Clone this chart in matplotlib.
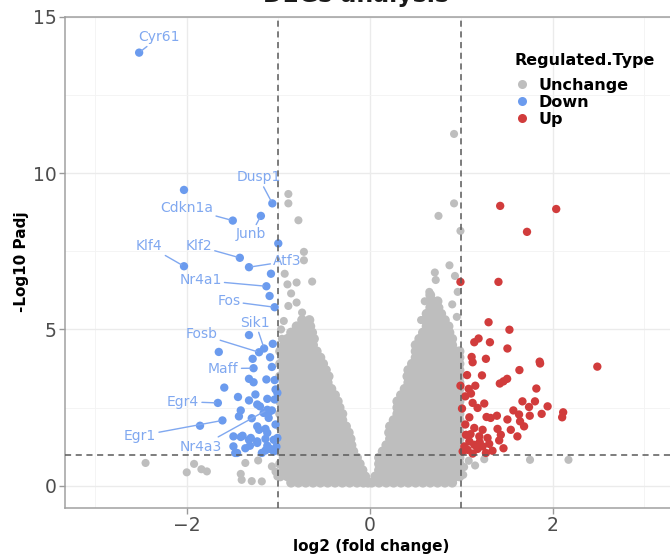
import matplotlib
matplotlib.use("Agg")
import matplotlib.pyplot as plt
from matplotlib.lines import Line2D

plt.rcParams['font.family'] = ['DejaVu Sans']

# ---- data ----
# dense grey cloud, left wedge (one y per row, x values of that row)
left_rows_y = [0.1, 0.3, 0.5, 0.7, 0.9, 1.1, 1.3, 1.5, 1.7, 1.9, 2.1, 2.3, 2.5,
               2.7, 2.9, 3.1, 3.3, 3.5, 3.7, 3.9, 4.1, 4.3, 4.5, 4.7, 4.9, 5.1, 5.3]
left_rows_x = [
    [-0.86, -0.78, -0.70, -0.62, -0.54, -0.46, -0.38, -0.30, -0.22, -0.14, -0.07, -0.02],
    [-0.98, -0.90, -0.82, -0.74, -0.66, -0.58, -0.50, -0.42, -0.34, -0.26, -0.18, -0.10, -0.05],
    [-0.94, -0.86, -0.78, -0.70, -0.62, -0.54, -0.46, -0.38, -0.30, -0.22, -0.14, -0.08],
    [-0.98, -0.90, -0.82, -0.74, -0.66, -0.58, -0.50, -0.42, -0.34, -0.26, -0.18, -0.11],
    [-0.94, -0.86, -0.78, -0.70, -0.62, -0.54, -0.46, -0.38, -0.30, -0.22, -0.14],
    [-0.98, -0.90, -0.82, -0.74, -0.66, -0.58, -0.50, -0.42, -0.34, -0.26, -0.18],
    [-0.94, -0.86, -0.78, -0.70, -0.62, -0.54, -0.46, -0.38, -0.30, -0.20],
    [-0.98, -0.90, -0.82, -0.74, -0.66, -0.58, -0.50, -0.42, -0.34, -0.26, -0.21],
    [-0.94, -0.86, -0.78, -0.70, -0.62, -0.54, -0.46, -0.38, -0.30, -0.23],
    [-0.98, -0.90, -0.82, -0.74, -0.66, -0.58, -0.50, -0.42, -0.34, -0.26],
    [-0.94, -0.86, -0.78, -0.70, -0.62, -0.54, -0.46, -0.38, -0.30],
    [-0.98, -0.90, -0.82, -0.74, -0.66, -0.58, -0.50, -0.42, -0.34, -0.30],
    [-0.94, -0.86, -0.78, -0.70, -0.62, -0.54, -0.46, -0.38, -0.33],
    [-0.98, -0.90, -0.82, -0.74, -0.66, -0.58, -0.50, -0.42, -0.35],
    [-0.94, -0.86, -0.78, -0.70, -0.62, -0.54, -0.46, -0.38],
    [-0.98, -0.90, -0.82, -0.74, -0.66, -0.58, -0.50, -0.42],
    [-0.94, -0.86, -0.78, -0.70, -0.62, -0.54, -0.46],
    [-0.98, -0.90, -0.82, -0.74, -0.66, -0.58, -0.50, -0.45],
    [-0.94, -0.86, -0.78, -0.70, -0.62, -0.54, -0.48],
    [-0.98, -0.90, -0.82, -0.74, -0.66, -0.58, -0.51],
    [-0.94, -0.86, -0.78, -0.70, -0.62, -0.54],
    [-0.98, -0.90, -0.82, -0.74, -0.66, -0.58],
    [-0.94, -0.86, -0.78, -0.70, -0.62],
    [-0.90, -0.82, -0.74, -0.66, -0.61],
    [-0.86, -0.78, -0.70, -0.63],
    [-0.80, -0.72, -0.65],
    [-0.74, -0.66],
]

# dense grey cloud, right wedge
right_rows_y = [0.1, 0.3, 0.5, 0.7, 0.9, 1.1, 1.3, 1.5, 1.7, 1.9, 2.1, 2.3, 2.5, 2.7, 2.9,
                3.1, 3.3, 3.5, 3.7, 3.9, 4.1, 4.3, 4.5, 4.7, 4.9, 5.1, 5.3, 5.5, 5.7, 5.9, 6.1]
right_rows_x = [
    [0.02, 0.10, 0.18, 0.26, 0.34, 0.42, 0.50, 0.58, 0.66, 0.74, 0.82, 0.90],
    [0.06, 0.14, 0.22, 0.30, 0.38, 0.46, 0.54, 0.62, 0.70, 0.78, 0.86, 0.94, 0.98],
    [0.10, 0.18, 0.26, 0.34, 0.42, 0.50, 0.58, 0.66, 0.74, 0.82, 0.90, 0.98],
    [0.10, 0.14, 0.22, 0.30, 0.38, 0.46, 0.54, 0.62, 0.70, 0.78, 0.86, 0.94, 0.98],
    [0.10, 0.18, 0.26, 0.34, 0.42, 0.50, 0.58, 0.66, 0.74, 0.82, 0.90, 0.98],
    [0.14, 0.22, 0.30, 0.38, 0.46, 0.54, 0.62, 0.70, 0.78, 0.86, 0.94, 0.98],
    [0.18, 0.26, 0.34, 0.42, 0.50, 0.58, 0.66, 0.74, 0.82, 0.90, 0.98],
    [0.22, 0.30, 0.38, 0.46, 0.54, 0.62, 0.70, 0.78, 0.86, 0.94, 0.98],
    [0.21, 0.26, 0.34, 0.42, 0.50, 0.58, 0.66, 0.74, 0.82, 0.90, 0.98],
    [0.22, 0.30, 0.38, 0.46, 0.54, 0.62, 0.70, 0.78, 0.86, 0.94, 0.98],
    [0.26, 0.34, 0.42, 0.50, 0.58, 0.66, 0.74, 0.82, 0.90, 0.98],
    [0.30, 0.38, 0.46, 0.54, 0.62, 0.70, 0.78, 0.86, 0.94, 0.98],
    [0.30, 0.34, 0.42, 0.50, 0.58, 0.66, 0.74, 0.82, 0.90, 0.98],
    [0.30, 0.38, 0.46, 0.54, 0.62, 0.70, 0.78, 0.86, 0.94, 0.98],
    [0.34, 0.42, 0.50, 0.58, 0.66, 0.74, 0.82, 0.90, 0.98],
    [0.38, 0.46, 0.54, 0.62, 0.70, 0.78, 0.86, 0.94, 0.98],
    [0.42, 0.50, 0.58, 0.66, 0.74, 0.82, 0.90, 0.98],
    [0.41, 0.46, 0.54, 0.62, 0.70, 0.78, 0.86, 0.94, 0.98],
    [0.42, 0.50, 0.58, 0.66, 0.74, 0.82, 0.90, 0.98],
    [0.46, 0.54, 0.62, 0.70, 0.78, 0.86, 0.94, 0.98],
    [0.50, 0.58, 0.66, 0.74, 0.82, 0.90, 0.98],
    [0.50, 0.54, 0.62, 0.70, 0.78, 0.86, 0.94, 0.98],
    [0.50, 0.58, 0.66, 0.74, 0.82, 0.90],
    [0.54, 0.62, 0.70, 0.78, 0.86, 0.90],
    [0.58, 0.66, 0.74, 0.82, 0.87],
    [0.62, 0.70, 0.78, 0.86],
    [0.60, 0.66, 0.74, 0.82],
    [0.62, 0.70, 0.78],
    [0.66, 0.74],
    [0.68, 0.74],
    [0.66],
]

# scattered grey points outside the dense cloud
sparse_x = [-0.89, -0.89, -0.78, -0.72, -0.72, -0.93, -0.90, -0.80, -0.63, -0.86, -0.80, -0.89,
            -0.74, -0.94, -0.97, -0.96,
            0.92, 0.92, 0.75, 0.99, 0.87, 0.71, 0.93, 0.72, 0.96, 0.65, 0.67, 0.90, 0.76,
            0.56, 0.95, 0.60,
            -2.45, -1.92, -2.00, -1.84, -1.78, -1.36, -1.22, -1.41, -1.40, -1.29, -1.18, -1.07,
            -1.03, -1.01,
            1.75, 2.17, 1.03, 1.08, 1.15, 1.25, 1.02]
sparse_y = [9.33, 9.03, 8.49, 7.48, 7.21, 6.78, 6.44, 6.50, 6.53, 6.15, 5.86, 5.75,
            5.54, 5.27, 5.00, 4.70,
            11.25, 9.03, 8.63, 8.15, 7.05, 6.82, 6.71, 6.58, 6.20, 6.20, 6.00, 5.80, 5.70,
            5.30, 5.40, 5.90,
            0.73, 0.70, 0.43, 0.53, 0.46, 0.73, 0.81, 0.38, 0.19, 0.15, 0.14, 0.62,
            0.45, 0.30,
            0.83, 0.83, 0.60, 0.80, 0.65, 0.85, 0.35]

# down-regulated genes with labels
genes = ['Cyr61', 'Dusp1', 'Cdkn1a', 'Junb', 'Klf4', 'Klf2', 'Atf3', 'Nr4a1', 'Fos',
         'Sik1', 'Fosb', 'Maff', 'Egr4', 'Egr1', 'Nr4a3']
gene_x = [-2.52, -1.065, -1.497, -1.19, -2.03, -1.42, -1.32, -1.13, -1.04,
          -1.155, -1.21, -1.27, -1.66, -1.61, -1.12]
gene_y = [13.85, 9.03, 8.48, 8.63, 7.02, 7.29, 6.99, 6.38, 5.71,
          4.39, 4.27, 3.76, 2.65, 2.09, 2.43]
label_x = [-2.30, -1.217, -2.00, -1.30, -2.41, -1.87, -0.90, -1.85, -1.54,
           -1.25, -1.84, -1.60, -2.04, -2.51, -1.85]
label_y = [14.36, 9.87, 8.88, 8.04, 7.66, 7.66, 7.18, 6.57, 5.90,
           5.22, 4.84, 3.75, 2.69, 1.60, 1.25]

# other down-regulated points
down_x = [-2.03, -1.00, -1.08, -1.095, -1.32, -1.06, -1.65, -1.28, -1.07, -1.59, -1.855,
          -1.09, -1.32, -1.27, -1.13, -1.04, -1.03, -1.44, -1.32, -1.25, -1.23, -1.12,
          -1.04, -1.01, -1.41, -1.43, -1.29, -1.16, -1.105, -1.07, -1.23, -1.14, -1.03,
          -1.49, -1.41, -1.32, -1.23, -1.14, -1.01, -1.49, -1.31, -1.12, -1.09, -1.05,
          -1.47, -1.14, -1.39, -1.45, -1.30, -1.21, -1.12, -1.05, -1.095, -1.20, -1.23,
          -1.05, -1.02, -1.36, -1.18]
down_y = [9.46, 7.75, 6.78, 6.07, 4.82, 4.54, 4.28, 4.06, 3.80, 3.14, 1.92,
          4.11, 3.42, 3.31, 3.40, 3.38, 3.08, 2.84, 2.73, 2.92, 2.60, 2.78,
          2.76, 2.97, 2.41, 2.22, 2.16, 2.33, 2.17, 2.41, 1.90, 1.82, 1.96,
          1.58, 1.56, 1.47, 1.42, 1.50, 1.53, 1.26, 1.28, 1.28, 1.18, 1.10,
          1.05, 1.13, 1.60, 1.05, 1.53, 1.79, 1.69, 1.15, 2.38, 2.54, 1.37,
          1.47, 1.25, 1.20, 1.05]

# up-regulated points
up_x = [1.424, 2.036, 1.717, 0.99, 1.405, 1.297, 1.525, 1.188, 1.141, 1.312, 1.503, 1.112,
        1.123, 1.268, 1.855, 1.86, 2.485, 1.062, 1.225, 1.634, 1.42, 1.46, 1.50, 0.99,
        1.152, 1.08, 1.819, 1.043, 1.105, 1.123, 1.25, 1.667, 1.804, 1.942, 1.739, 1.007,
        1.177, 1.568, 1.63, 1.747, 1.877, 2.112, 2.101, 1.087, 1.275, 1.32, 1.388, 1.503,
        1.641, 1.685, 1.043, 1.141, 1.232, 1.395, 1.54, 1.612, 1.431, 1.05, 1.196, 1.286,
        1.087, 1.413, 1.033, 1.141, 1.232, 1.304, 1.068, 1.177, 1.268, 1.014, 1.123, 1.34,
        1.46, 1.20, 1.10]
up_y = [8.95, 8.85, 8.12, 6.52, 6.52, 5.23, 4.99, 4.71, 4.59, 4.59, 4.39, 4.12,
        3.95, 4.06, 3.97, 3.91, 3.81, 3.54, 3.53, 3.70, 3.27, 3.34, 3.42, 3.20,
        3.20, 3.10, 3.11, 2.86, 2.95, 2.65, 2.63, 2.70, 2.70, 2.54, 2.52, 2.47,
        2.49, 2.41, 2.28, 2.24, 2.30, 2.35, 2.19, 2.19, 2.20, 2.17, 2.24, 2.12,
        2.06, 1.90, 1.96, 1.85, 1.79, 1.82, 1.79, 1.58, 1.63, 1.63, 1.58, 1.53,
        1.42, 1.45, 1.26, 1.31, 1.26, 1.34, 1.15, 1.18, 1.05, 1.10, 1.03, 1.12,
        1.20, 1.40, 1.65]

col_gray = '#BEBEBE'
col_down = '#6B9BEE'
col_up = '#D13C3C'
col_label = '#80A8F0'

# ---- figure ----
fig = plt.figure(figsize=(6.7, 5.54), dpi=100)
ax = fig.add_axes([0.097, 0.0836, 0.9127, 0.8863])

cx, cy = [], []
for yy, xs in zip(left_rows_y, left_rows_x):
    cx += xs
    cy += [yy] * len(xs)
for yy, xs in zip(right_rows_y, right_rows_x):
    cx += xs
    cy += [yy] * len(xs)

# the cloud is packed, so its dots are drawn a bit larger to close the gaps
ax.scatter(cx, cy, s=50, color=col_gray, edgecolors='none', zorder=2)
ax.scatter(sparse_x, sparse_y, s=34, color=col_gray, edgecolors='none', zorder=2)
ax.scatter(down_x + gene_x, down_y + gene_y, s=36, color=col_down, edgecolors='none', zorder=2)
ax.scatter(up_x, up_y, s=36, color=col_up, edgecolors='none', zorder=2)

for g, px, py, lx, ly in zip(genes, gene_x, gene_y, label_x, label_y):
    ax.annotate(g, xy=(px, py), xytext=(lx, ly), ha='center', va='center',
                fontsize=10, color=col_label, zorder=4,
                arrowprops=dict(arrowstyle='-', color=col_label, lw=1.0,
                                shrinkA=0, shrinkB=2))

ax.axvline(-1, color='#5a5a5a', lw=1.1, ls=(0, (4, 3)), zorder=3)
ax.axvline(1, color='#5a5a5a', lw=1.1, ls=(0, (4, 3)), zorder=3)
ax.axhline(1, color='#5a5a5a', lw=1.1, ls=(0, (4, 3)), zorder=3)

ax.set_xlim(-3.33, 3.35)
ax.set_ylim(-0.70, 15.0)
ax.set_xticks([-2, 0, 2])
ax.set_xticks([-3, -1, 1, 3], minor=True)
ax.set_yticks([0, 5, 10, 15])
ax.set_yticks([2.5, 7.5, 12.5], minor=True)
ax.grid(which='major', color='#EBEBEB', lw=1.0, zorder=0)
ax.grid(which='minor', color='#F3F3F3', lw=0.6, zorder=0)
ax.set_axisbelow(True)
ax.tick_params(which='major', labelsize=13.5, labelcolor='#4D4D4D', color='#9A9A9A',
               length=4, width=1, pad=2)
ax.tick_params(which='minor', length=0)
for sp in ax.spines.values():
    sp.set_color('#A0A0A0')
    sp.set_linewidth(1.1)

ax.set_xlabel('log2 (fold change)', fontsize=11, fontweight='bold', labelpad=3)
ax.set_ylabel('-Log10 Padj', fontsize=11, fontweight='bold', labelpad=3)

fig.text(356 / 670, 1 - 2 / 554, 'DEGs analysis', ha='center', va='baseline',
         fontsize=17, fontweight='bold', color='#1A1A1A')

handles = [Line2D([], [], ls='none', marker='o', ms=6.5, color=c, mec='none')
           for c in (col_gray, col_down, col_up)]
leg = ax.legend(handles, ['Unchange', 'Down', 'Up'], title='Regulated.Type',
                loc='upper left', bbox_to_anchor=(514 / 670, 1 - 53 / 554),
                bbox_transform=fig.transFigure, frameon=False,
                prop={'weight': 'bold', 'size': 11.5},
                title_fontproperties={'weight': 'bold', 'size': 11.5},
                alignment='left', handlelength=1.0, handletextpad=0.55,
                labelspacing=0.12, borderpad=0, borderaxespad=0)
leg._legend_box.sep = 7
leg.set_zorder(5)

fig.savefig('out.png', dpi=100)
